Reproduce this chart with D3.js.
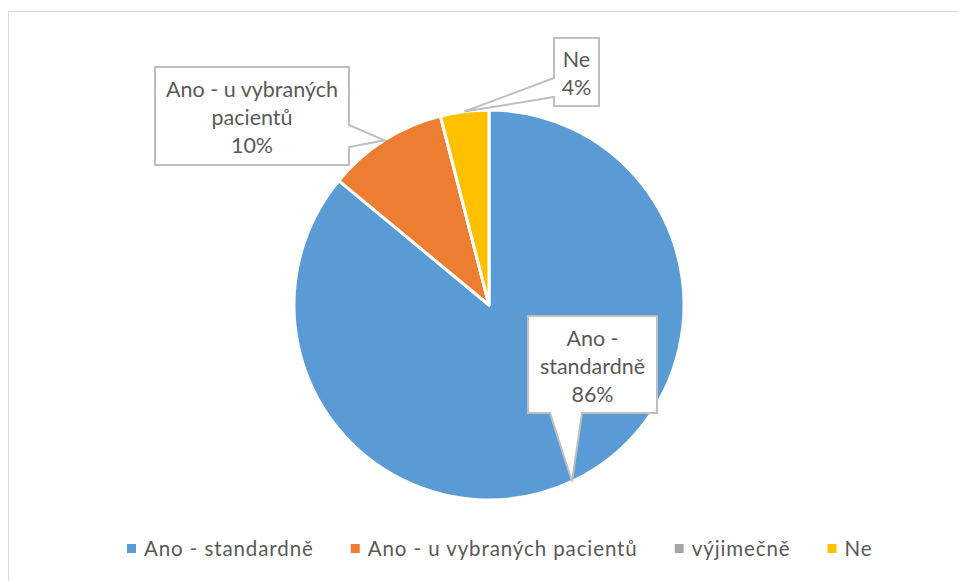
<!DOCTYPE html>
<html>
<head>
<meta charset="utf-8">
<script src="https://cdn.jsdelivr.net/npm/d3@7"></script>
<style>
  body { margin: 0; background: #fff; }
  svg { display: block; font-family: Lato, "Noto Sans", sans-serif; }
</style>
</head>
<body>
<svg id="chart"></svg>
<script>
// chart data
const categories = ["Ano - standardně", "Ano - u vybraných pacientů", "výjimečně", "Ne"];
const shares = [86, 10, 0, 4];
const labelLines = [["Ano -", "standardně"], ["Ano - u vybraných", "pacientů"], [], ["Ne"]];
const colors = ["#5B9BD5", "#ED7D31", "#A5A5A5", "#FFC000"];

const width = 958, height = 581;
const cx = 489, cy = 305, radius = 195;
const textColor = "#595959", calloutStroke = "#BFBFBF";
const fontSize = 21.5, lineH = 28;

// callout boxes (x, y, w, h) and which edge the pointer leaves from
const boxes = [
  { x: 528, y: 316, w: 129, h: 97, side: "bottom", a: 550, b: 582 },
  { x: 155, y: 67, w: 194, h: 98, side: "right", a: 125, b: 147 },
  null,
  { x: 554, y: 38, w: 45, h: 68, side: "left", a: 78, b: 97 }
];

const svg = d3.select("#chart").attr("width", width).attr("height", height);

// plot border
svg.append("rect")
  .attr("x", 8.5).attr("y", 11.5)
  .attr("width", width + 20).attr("height", height + 20)
  .attr("fill", "none").attr("stroke", "#D9D9D9").attr("stroke-width", 1);

const pie = d3.pie().sort(null).value(d => d)(shares);
const arc = d3.arc().innerRadius(0).outerRadius(radius);
const edge = d3.arc().innerRadius(radius).outerRadius(radius);

const g = svg.append("g").attr("transform", "translate(" + cx + "," + cy + ")");

g.selectAll("path.slice")
  .data(pie)
  .enter()
  .append("path")
  .attr("class", "slice")
  .attr("d", arc)
  .attr("fill", (d, i) => colors[i])
  .attr("stroke", "#fff")
  .attr("stroke-width", 3)
  .attr("stroke-linejoin", "round");

// callouts
pie.forEach((d, i) => {
  const box = boxes[i];
  if (!box) return;
  const tip = edge.centroid(d);
  const tx = tip[0] + cx, ty = tip[1] + cy;
  let pts;
  const x0 = box.x, y0 = box.y, x1 = box.x + box.w, y1 = box.y + box.h;
  if (box.side === "bottom") {
    pts = [[x0, y0], [x1, y0], [x1, y1], [box.b, y1], [tx, ty], [box.a, y1], [x0, y1]];
  } else if (box.side === "right") {
    pts = [[x0, y0], [x1, y0], [x1, box.a], [tx, ty], [x1, box.b], [x1, y1], [x0, y1]];
  } else {
    pts = [[x0, y0], [x1, y0], [x1, y1], [x0, y1], [x0, box.b], [tx, ty], [x0, box.a]];
  }
  svg.append("path")
    .attr("d", d3.line()(pts) + "Z")
    .attr("fill", "#fff")
    .attr("stroke", calloutStroke)
    .attr("stroke-width", 2)
    .attr("stroke-linejoin", "miter");

  const lines = labelLines[i].concat([shares[i] + "%"]);
  const top = box.y + box.h / 2 - (lines.length - 1) * lineH / 2 + 9;
  const t = svg.append("text")
    .attr("fill", textColor)
    .attr("font-size", fontSize)
    .attr("text-anchor", "middle");
  lines.forEach((s, k) => {
    t.append("tspan")
      .attr("x", box.x + box.w / 2)
      .attr("y", top + k * lineH)
      .text(s);
  });
});

// legend
const legend = svg.append("g").attr("transform", "translate(127, 556)");
let lx = 0;
categories.forEach((c, i) => {
  const item = legend.append("g").attr("transform", "translate(" + lx + ",0)");
  item.append("rect")
    .attr("x", 0).attr("y", -12)
    .attr("width", 9).attr("height", 9)
    .attr("fill", colors[i]);
  const txt = item.append("text")
    .attr("x", 17).attr("y", 0)
    .attr("fill", textColor)
    .attr("font-size", 20.5)
    .attr("letter-spacing", 0.9)
    .text(c);
  lx += 17 + txt.node().getComputedTextLength() + 37;
});
</script>
</body>
</html>
